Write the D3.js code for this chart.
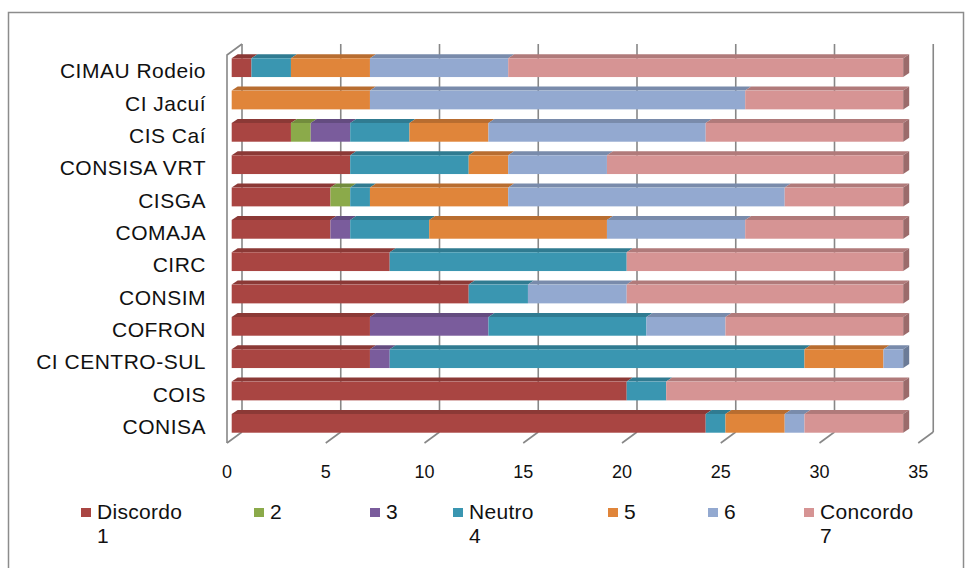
<!DOCTYPE html>
<html><head><meta charset="utf-8">
<script src="https://cdn.jsdelivr.net/npm/d3@7"></script>
<style>
html,body{margin:0;padding:0;background:#fff;}
svg{display:block;font-family:"Liberation Sans",Arial,sans-serif;}
</style></head>
<body><svg id="c" width="970" height="568"></svg>
<script>
// ---- data ----
const categories = ["CIMAU Rodeio","CI Jacuí","CIS Caí","CONSISA VRT","CISGA","COMAJA","CIRC","CONSIM","COFRON","CI CENTRO-SUL","COIS","CONISA"];
const seriesNames = ["Discordo 1","2","3","Neutro 4","5","6","Concordo 7"];
const legendLines = [["Discordo","1"],["2"],["3"],["Neutro","4"],["5"],["6"],["Concordo","7"]];
const s1 = [1,0,3,6,5,5,8,12,7,7,20,24];
const s2 = [0,0,1,0,1,0,0,0,0,0,0,0];
const s3 = [0,0,2,0,0,1,0,0,6,1,0,0];
const s4 = [2,0,3,6,1,4,12,3,8,21,2,1];
const s5 = [4,7,4,2,7,9,0,0,0,4,0,3];
const s6 = [7,19,11,5,14,7,0,5,4,1,0,1];
const s7 = [20,8,10,15,6,8,14,14,9,0,12,5];
const xTicks = [0,5,10,15,20,25,30,35];
const colors = ["#A94542","#8BAA4A","#7A5C9C","#3A96B1","#E0853A","#93A9D0","#D69494"];

// ---- layout ----
const svg = d3.select("#c");
const seriesVals = [s1,s2,s3,s4,s5,s6,s7];
const rows = categories.map((c,i)=>{const o={cat:c}; seriesNames.forEach((s,j)=>o[s]=seriesVals[j][i]); return o;});
const stack = d3.stack().keys(seriesNames)(rows);

const x = d3.scaleLinear().domain([0,35]).range([231.7, 231.7+35*19.75]);
const y = d3.scaleBand().domain(categories).range([51.5, 439.5]).paddingInner(0.42).paddingOuter(0.21);
const bw = y.bandwidth();
const backDx = 10.3, floorDx = -4.7;           // relative to bar front
const topFront = 55, floorFront = 443, wdx = 15, wdy = -11;
const bdx = 6, bdy = -4;                         // bar depth
const gridCol = "#878787";

// outer border
svg.append("rect").attr("x",8.5).attr("y",12.5).attr("width",955).attr("height",600)
  .attr("fill","none").attr("stroke","#8c8c8c").attr("stroke-width",1.5);

// gridlines on back wall
const g = svg.append("g").attr("stroke",gridCol).attr("stroke-width",1.6).attr("fill","none");
xTicks.forEach(t=>{
  const xb = x(t)+backDx, xf = x(t)+floorDx;
  g.append("line").attr("x1",xb).attr("x2",xb).attr("y1",topFront+wdy).attr("y2",floorFront+wdy);
  g.append("line").attr("x1",xf).attr("x2",xb).attr("y1",floorFront).attr("y2",floorFront+wdy);
});
// left wall
const x0f = x(0)+floorDx, x0b = x(0)+backDx;
g.append("path").attr("d",`M${x0f},${floorFront}L${x0f},${topFront}L${x0b},${topFront+wdy}`);

// bars
const bars = svg.append("g");
stack.forEach((layer,j)=>{
  layer.forEach((d,i)=>{
    const v0=d[0], v1=d[1];
    if(v1-v0<=0) return;
    const xa=x(v0), xb=x(v1), yt=y(categories[i]);
    const c = d3.color(colors[j]);
    bars.append("path").attr("d",`M${xa},${yt}L${xa+bdx},${yt+bdy}L${xb+bdx},${yt+bdy}L${xb},${yt}Z`)
      .attr("fill",c.darker(0.55));
    bars.append("rect").attr("x",xa).attr("y",yt).attr("width",xb-xa).attr("height",bw).attr("fill",c);
  });
});
// right end faces
rows.forEach((r,i)=>{
  let j=seriesNames.length-1; while(j>0 && r[seriesNames[j]]===0) j--;
  const tot = d3.sum(seriesNames,s=>r[s]);
  const xe=x(tot), yt=y(r.cat), yb=yt+bw;
  bars.append("path").attr("d",`M${xe},${yt}L${xe+bdx},${yt+bdy}L${xe+bdx},${yb+bdy}L${xe},${yb}Z`)
    .attr("fill",d3.color(colors[j]).darker(0.9));
});

// category labels
svg.append("g").selectAll("text").data(categories).join("text")
  .attr("x",206).attr("y",d=>y(d)+bw/2+10.5).attr("text-anchor","end")
  .attr("font-size",21).attr("letter-spacing",0.5).attr("fill","#111").text(d=>d);

// x tick labels
svg.append("g").selectAll("text").data(xTicks).join("text")
  .attr("x",d=>x(d)+floorDx).attr("y",478).attr("text-anchor","middle")
  .attr("font-size",18).attr("fill","#111").text(d=>d);

// legend
const legX = [81,254,370,453,608,708,804];
const lg = svg.append("g");
legendLines.forEach((lines,j)=>{
  lg.append("rect").attr("x",legX[j]).attr("y",508).attr("width",10).attr("height",9).attr("fill",colors[j]);
  lines.forEach((t,k)=>{
    lg.append("text").attr("x",legX[j]+16).attr("y",519+k*24)
      .attr("font-size",21).attr("letter-spacing",0.3).attr("fill","#111").text(t);
  });
});
</script></body></html>
